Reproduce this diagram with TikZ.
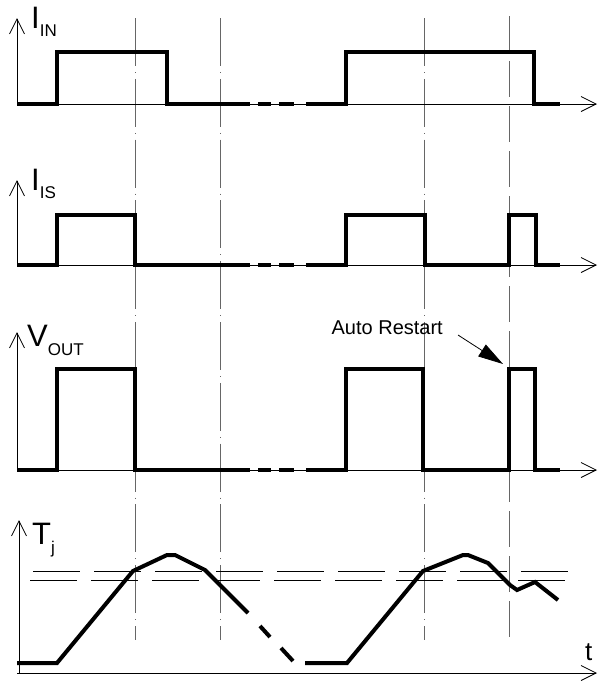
\documentclass[tikz,border=0pt]{standalone}
\usepackage{fontspec}
\setmainfont{Liberation Sans}
\usetikzlibrary{arrows.meta}
\newcommand\lowidx[2]{\raisebox{-#1pt}{\fontsize{17}{17}\selectfont #2}}

\begin{document}
\begin{tikzpicture}[x=1pt,y=-1pt,
        sig/.style={line width=4pt,line join=miter},
        axis/.style={line width=0.8pt,-{Straight Barb[length=15pt,width=15pt]}},
        guide/.style={black!60,line width=0.8pt,dash pattern=on 48pt off 6pt on 0.8pt off 6pt},
        guidetwo/.style={black!60,line width=0.8pt,dash pattern=on 36pt off 9pt},
        level/.style={line width=0.8pt,dash pattern=on 47pt off 14pt},
        lbl/.style={font=\fontsize{31}{31}\selectfont,inner sep=0pt,anchor=base west},
        note/.style={font=\fontsize{20}{20}\selectfont,inner sep=0pt,anchor=base east},
        pointer/.style={line width=0.8pt,-{Triangle[length=25pt,width=14pt]}}]
        \useasboundingbox (0,0) rectangle (599,681);
        % vertical marks
        \foreach \gx in {135,220,424}
                \draw[guide] (\gx,18) -- (\gx,640);
        \draw[guidetwo] (509,16) -- (509,645);
        % I_IN
        \draw[axis] (17,104) -- (17,18);
        \draw[axis] (17,104) -- (597,104);
        \node[lbl] (iin) at (31,28) {I\lowidx{8}{IN}};
        \draw[sig] (17,104) -- (57,104) -- (57,52) -- (167,52) -- (167,104) -- (250,104);
        \draw[sig] (258,104) -- (271,104);
        \draw[sig] (279,104) -- (294,104);
        \draw[sig] (306,104) -- (346,104) -- (346,52) -- (534,52) -- (534,104) -- (560,104);
        % I_IS
        \draw[axis] (17,265) -- (17,180);
        \draw[axis] (17,265) -- (597,265);
        \node[lbl] (iis) at (31,190) {I\lowidx{8}{IS}};
        \draw[sig] (17,265) -- (57,265) -- (57,215) -- (135,215) -- (135,265) -- (250,265);
        \draw[sig] (258,265) -- (271,265);
        \draw[sig] (279,265) -- (294,265);
        \draw[sig] (306,265) -- (346,265) -- (346,215) -- (425,215) -- (425,265) -- (509,265) -- (509,215) -- (536,215) -- (536,265) -- (560,265);
        % V_OUT
        \draw[axis] (17,470) -- (17,332);
        \draw[axis] (17,470) -- (597,470);
        \node[lbl] (vout) at (27,346) {V\lowidx{9}{OUT}};
        \draw[sig] (17,470) -- (57,470) -- (57,369) -- (135,369) -- (135,470) -- (250,470);
        \draw[sig] (258,470) -- (271,470);
        \draw[sig] (279,470) -- (294,470);
        \draw[sig] (306,470) -- (346,470) -- (346,369) -- (423,369) -- (423,470) -- (509,470) -- (509,369) -- (535,369) -- (535,470) -- (560,470);
        \node[note] (restart) at (443,334) {Auto Restart};
        \coordinate (restartfoot) at (458,335);
        \coordinate (restarttip) at (503,364);
        \draw[pointer] (restartfoot) -- (restarttip);
        % T_j
        \draw[axis] (19,673) -- (19,520);
        \draw[axis] (17,673) -- (597,673);
        \node[lbl] (tj) at (32,544) {T\lowidx{9}{j}};
        \node[lbl,font=\fontsize{26}{26}\selectfont] (time) at (585,660) {t};
        \draw[level] (33,571) -- (570,571);
        \draw[level] (30,580) -- (570,580);
        \draw[sig] (17,663) -- (57,663) -- (133,571) -- (167,555) -- (175,555) -- (205,570) -- (248,613);
        \draw[sig] (260,626) -- (270,637);
        \draw[sig] (281,648) -- (293,661);
        \draw[sig] (305,663) -- (347,663) -- (423,571) -- (463,555) -- (468,555) -- (488,563) -- (510,585) -- (517,590) -- (535,582) -- (558,600);
\end{tikzpicture}
\end{document}
